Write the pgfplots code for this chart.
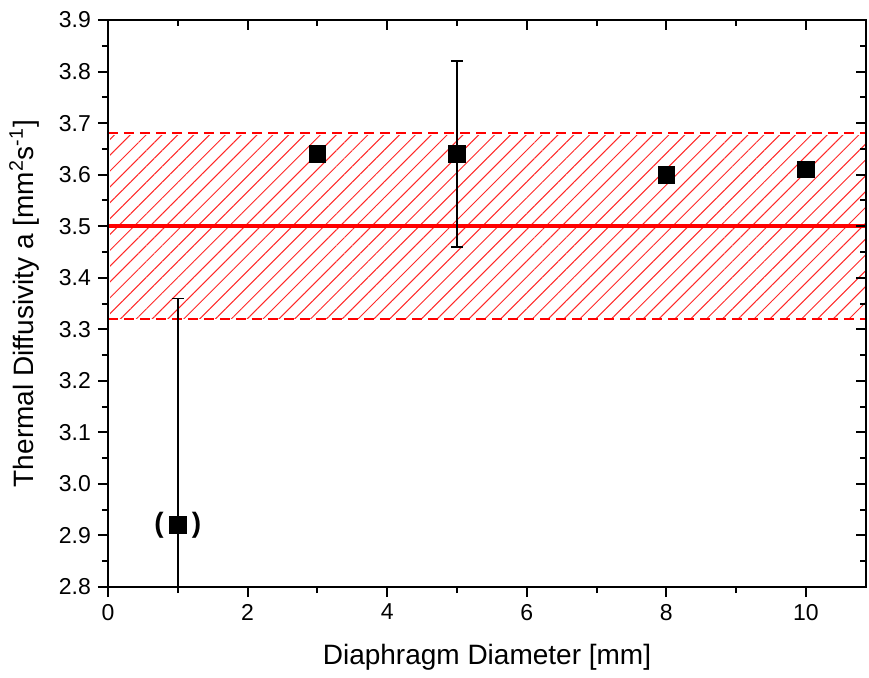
\documentclass[border=0pt]{standalone}
\usepackage{fontspec}
\setmainfont{Liberation Sans}
\usepackage{pgfplots}
\pgfplotsset{compat=1.18}
\usetikzlibrary{patterns.meta}
\definecolor{hatchred}{RGB}{255,40,40}
\begin{document}
\begin{tikzpicture}
\begin{axis}[name=main,
  scale only axis, width=379pt, height=283.5pt,
  xmin=0, xmax=10.86, ymin=2.8, ymax=3.9,
  xtick={0,2,4,6,8,10}, minor x tick num=1,
  ytick={2.8,2.9,3.0,3.1,3.2,3.3,3.4,3.5,3.6,3.7,3.8,3.9}, minor y tick num=1,
  xtick pos=lower, ytick pos=left, tick align=outside,
  major tick length=5pt, minor tick length=3pt,
  every tick/.style={black, line width=1pt},
  axis line style={line width=1.3pt},
  /pgf/number format/assume math mode=true,
  y tick label style={/pgf/number format/.cd, fixed, fixed zerofill, precision=1},
  tick label style={font=\fontsize{11.5}{13}\selectfont},
  label style={font=\fontsize{14}{16}\selectfont},
  xlabel={Diaphragm Diameter [mm]},
  ylabel={Thermal Diffusivity a [mm\textsuperscript{2}s\textsuperscript{-1}]},
  xlabel style={yshift=-5pt},
  ylabel style={yshift=3pt},
]
\addplot[draw=none, pattern={Lines[angle=45, distance=5.6pt, line width=0.5pt]}, pattern color=hatchred]
  coordinates {(0.03,3.32) (10.86,3.32) (10.86,3.675) (0.03,3.675)} -- cycle;
\addplot[red, line width=1pt, dash pattern=on 5pt off 3pt] coordinates {(0,3.32) (10.86,3.32)};
\addplot[red, line width=1pt, dash pattern=on 5pt off 3pt] coordinates {(0,3.68) (10.86,3.68)};
\addplot[red, line width=1.7pt] coordinates {(0,3.5) (10.86,3.5)};
\addplot[only marks, mark=square*, black, mark size=4.15pt,
  error bars/.cd, y dir=both, y explicit,
  error bar style={line width=0.8pt, black},
  error mark options={rotate=90, mark size=3pt, line width=0.8pt, black}]
  coordinates {
    (1,2.92) +- (0,0.44)
    (3,3.64) +- (0,0)
    (5,3.64) +- (0,0.18)
    (8,3.60) +- (0,0)
    (10,3.61) +- (0,0)
  };
\node[font=\fontsize{14}{16}\selectfont\bfseries] at (axis cs:1,2.92) {(\hspace{14pt})};
\end{axis}
\begin{axis}[
  at={(main.south west)}, anchor=south west,
  scale only axis, width=379pt, height=283.5pt,
  xmin=0, xmax=10.86, ymin=2.8, ymax=3.9,
  xtick={0,2,4,6,8,10}, minor x tick num=1,
  ytick={2.8,2.9,3.0,3.1,3.2,3.3,3.4,3.5,3.6,3.7,3.8,3.9}, minor y tick num=1,
  xtick pos=upper, ytick pos=right, tick align=inside,
  xticklabels={}, yticklabels={},
  major tick length=5pt, minor tick length=3pt,
  every tick/.style={black, line width=1pt},
  axis line style={line width=1.3pt},
]
\end{axis}
\pgfresetboundingbox
\path (main.south west) ++(-54pt,-45pt) rectangle ++(434.5pt,338.5pt);
\end{tikzpicture}
\end{document}
